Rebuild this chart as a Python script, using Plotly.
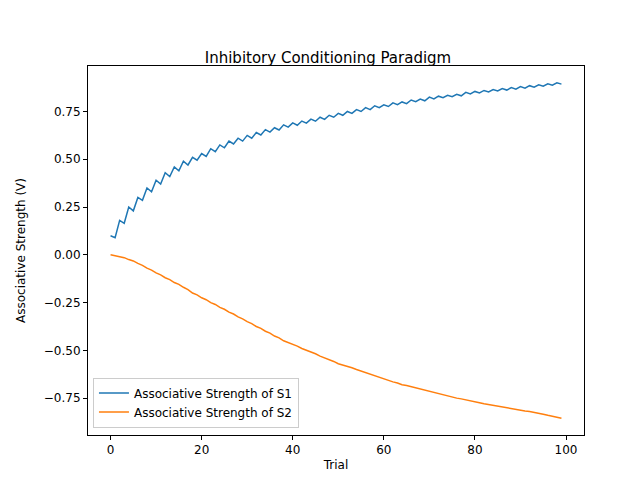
import plotly.graph_objects as go

# S1: values on even trials (after reinforced trial) and odd trials (after non-reinforced)
s1_even = [0.10, 0.18, 0.25, 0.30, 0.35, 0.39, 0.43, 0.46, 0.49, 0.51,
           0.53, 0.555, 0.575, 0.595, 0.61, 0.625, 0.64, 0.655, 0.665, 0.68,
           0.69, 0.70, 0.71, 0.72, 0.73, 0.74, 0.75, 0.76, 0.77, 0.78,
           0.785, 0.795, 0.80, 0.81, 0.815, 0.825, 0.83, 0.835, 0.84, 0.85,
           0.855, 0.86, 0.865, 0.87, 0.875, 0.88, 0.885, 0.89, 0.895, 0.90]
s1_odd = [0.09, 0.165, 0.23, 0.285, 0.33, 0.37, 0.41, 0.44, 0.47, 0.495,
          0.515, 0.54, 0.56, 0.58, 0.595, 0.61, 0.627, 0.642, 0.653, 0.668,
          0.678, 0.689, 0.699, 0.709, 0.72, 0.73, 0.74, 0.75, 0.76, 0.77,
          0.776, 0.786, 0.791, 0.801, 0.806, 0.816, 0.822, 0.827, 0.832, 0.842,
          0.847, 0.852, 0.857, 0.862, 0.867, 0.872, 0.877, 0.882, 0.888, 0.893]
s2_even = [0.0, -0.01, -0.025, -0.045, -0.07, -0.095, -0.12, -0.145, -0.17, -0.20,
           -0.225, -0.25, -0.275, -0.30, -0.325, -0.35, -0.375, -0.40, -0.425, -0.45,
           -0.47, -0.49, -0.51, -0.53, -0.55, -0.57, -0.585, -0.60, -0.62, -0.635,
           -0.65, -0.665, -0.68, -0.69, -0.705, -0.715, -0.725, -0.74, -0.75, -0.76,
           -0.77, -0.78, -0.79, -0.80, -0.805, -0.815, -0.82, -0.83, -0.84, -0.85]
s2_odd = [-0.005, -0.015, -0.032, -0.055, -0.08, -0.105, -0.13, -0.155, -0.182, -0.21,
          -0.235, -0.26, -0.285, -0.31, -0.335, -0.36, -0.385, -0.41, -0.435, -0.458,
          -0.478, -0.498, -0.518, -0.538, -0.558, -0.576, -0.591, -0.608, -0.626, -0.641,
          -0.656, -0.671, -0.684, -0.696, -0.709, -0.719, -0.731, -0.744, -0.754, -0.764,
          -0.774, -0.784, -0.794, -0.802, -0.809, -0.817, -0.824, -0.834, -0.844, -0.855]

trials = list(range(100))
s1 = [v for pair in zip(s1_even, s1_odd) for v in pair]
s2 = [v for pair in zip(s2_even, s2_odd) for v in pair]

fig = go.Figure()
fig.add_trace(go.Scatter(x=trials, y=s1, mode='lines', name='Associative Strength of S1',
                         line=dict(color='#1f77b4', width=1.5)))
fig.add_trace(go.Scatter(x=trials, y=s2, mode='lines', name='Associative Strength of S2',
                         line=dict(color='#ff7f0e', width=1.5)))

axis = dict(showgrid=False, zeroline=False, showline=True, mirror=True, linecolor='black',
            linewidth=1, ticks='outside', ticklen=4, tickcolor='black', automargin=False,
            tickfont=dict(size=12, color='black'))
fig.update_layout(
    width=640, height=480, plot_bgcolor='white', paper_bgcolor='white',
    font=dict(family='DejaVu Sans', color='black'),
    margin=dict(l=80, r=64, t=58, b=53),
    title=dict(text='Inhibitory Conditioning Paradigm', x=0.5, xanchor='center',
               y=0.885, yanchor='bottom', font=dict(size=15)),
    legend=dict(x=0.01, y=0.02, xanchor='left', yanchor='bottom', bordercolor='#cccccc',
                borderwidth=1, font=dict(size=12), bgcolor='rgba(255,255,255,0.8)'),
)
fig.update_xaxes(axis, title=dict(text='Trial', font=dict(size=12), standoff=4),
                 range=[-4.95, 103.95], tickvals=[0, 20, 40, 60, 80, 100])
fig.update_yaxes(axis, title=dict(text='Associative Strength (V)', font=dict(size=12)),
                 range=[-0.943, 0.988], tickvals=[-0.75, -0.5, -0.25, 0, 0.25, 0.5, 0.75],
                 tickformat='.2f')
fig.write_html("out.html")
